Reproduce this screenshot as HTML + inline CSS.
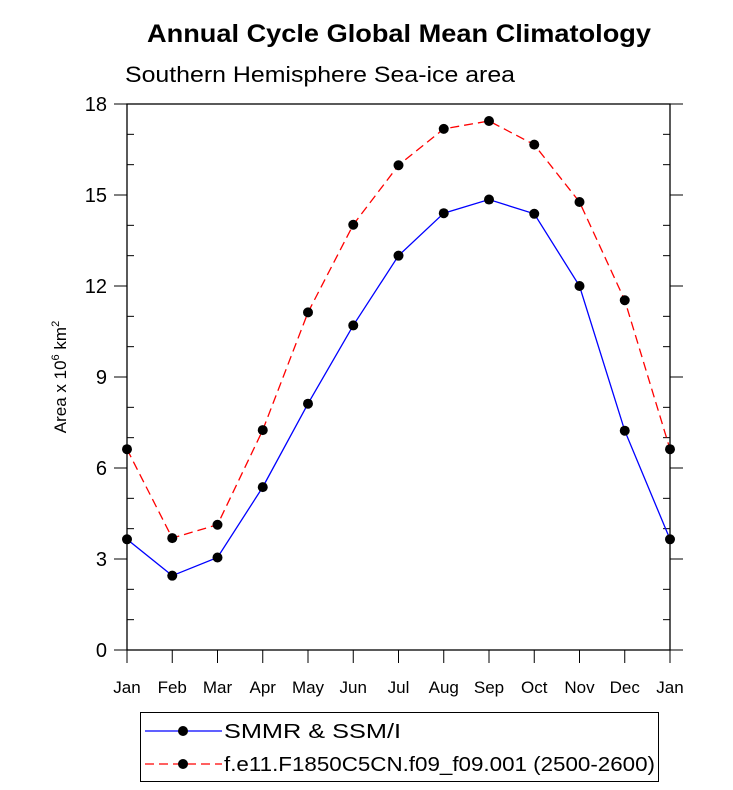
<!DOCTYPE html>
<html><head><meta charset="utf-8"><style>body{margin:0;background:#fff}svg{display:block;font-family:"Liberation Sans",Arial,sans-serif}</style></head>
<body>
<svg id="c" width="733" height="790">
<text x="147" y="42" font-size="25" font-weight="bold" textLength="504" lengthAdjust="spacingAndGlyphs">Annual Cycle Global Mean Climatology</text>
<text x="125" y="82" font-size="22" textLength="390" lengthAdjust="spacingAndGlyphs">Southern Hemisphere Sea-ice area</text>
<text transform="translate(66,377) rotate(-90)" text-anchor="middle" font-size="17">Area x 10<tspan dy="-7" font-size="11">6</tspan><tspan dy="7"> km</tspan><tspan dy="-7" font-size="11">2</tspan></text>
<g id="axes"></g><g id="series"></g>
<g>
<rect x="140.5" y="712.5" width="518" height="69" fill="none" stroke="#000" stroke-width="1"/>
<g>
<line x1="145" y1="731" x2="222" y2="731" stroke="#0000ff" stroke-width="1.3"/><circle cx="183" cy="731" r="5" fill="#000"/>
<text x="224" y="738" font-size="20" textLength="177" lengthAdjust="spacingAndGlyphs">SMMR &amp; SSM/I</text></g>
<g>
<line x1="145" y1="764" x2="222" y2="764" stroke="#ff0000" stroke-width="1.3" stroke-dasharray="9,5"/><circle cx="183" cy="764" r="5" fill="#000"/>
<text x="224" y="771" font-size="20" textLength="431" lengthAdjust="spacingAndGlyphs">f.e11.F1850C5CN.f09_f09.001 (2500-2600)</text></g>
</g>
</svg>
<script>
const months=["Jan","Feb","Mar","Apr","May","Jun","Jul","Aug","Sep","Oct","Nov","Dec","Jan"];
const obsValues=[3.65,2.45,3.05,5.37,8.12,10.7,13.0,14.4,14.85,14.38,12.0,7.23,3.65];
const modelValues=[6.62,3.69,4.13,7.25,11.13,14.02,15.98,17.18,17.44,16.66,14.77,11.53,6.62];
const yTicks=[0,3,6,9,12,15,18];
const NS="http://www.w3.org/2000/svg";
const L=127,R=670,T=104,B=650;
const xs=i=>L+(R-L)*i/(months.length-1);
const ys=v=>B-(B-T)*v/18;
function mk(p,t,a){const e=document.createElementNS(NS,t);for(const k in a)e.setAttribute(k,a[k]);p.appendChild(e);return e;}
const ax=document.getElementById('axes');
const frame=mk(ax,'rect',{x:L,y:T,width:R-L,height:B-T,fill:'none',stroke:'#000','stroke-width':1.3});


for(let v=0;v<=18;v++){const y=ys(v);const maj=v%3===0;
 mk(ax,'line',{x1:maj?L-13:L,x2:maj?L:L+7,y1:y,y2:y,stroke:'#000','stroke-width':1});
 mk(ax,'line',{x1:maj?R:R-7,x2:maj?R+13:R,y1:y,y2:y,stroke:'#000','stroke-width':1});}
yTicks.forEach(v=>{const t=mk(ax,'text',{x:L-20,y:ys(v)+7,'text-anchor':'end','font-size':20});t.textContent=v;

});
months.forEach((m,i)=>{mk(ax,'line',{x1:xs(i),x2:xs(i),y1:B,y2:B+13,stroke:'#000','stroke-width':1});
const t=mk(ax,'text',{x:xs(i),y:B+43,'text-anchor':'middle','font-size':17});t.textContent=m;

});
const sg=document.getElementById('series');
function draw(vals,color,dash,name){
 const g=mk(sg,'g',{});
 
 
 const pts=vals.map((v,i)=>xs(i)+','+ys(v)).join(' ');
 const a={points:pts,fill:'none',stroke:color,'stroke-width':1.3};if(dash)a['stroke-dasharray']='9,5';
 mk(g,'polyline',a);
 vals.forEach((v,i)=>{const c=mk(g,'circle',{cx:xs(i),cy:ys(v),r:5,fill:'#000'});
 
 });
}
draw(modelValues,'#ff0000',true,'series-model');
draw(obsValues,'#0000ff',false,'series-smmr');
</script>
</body></html>
